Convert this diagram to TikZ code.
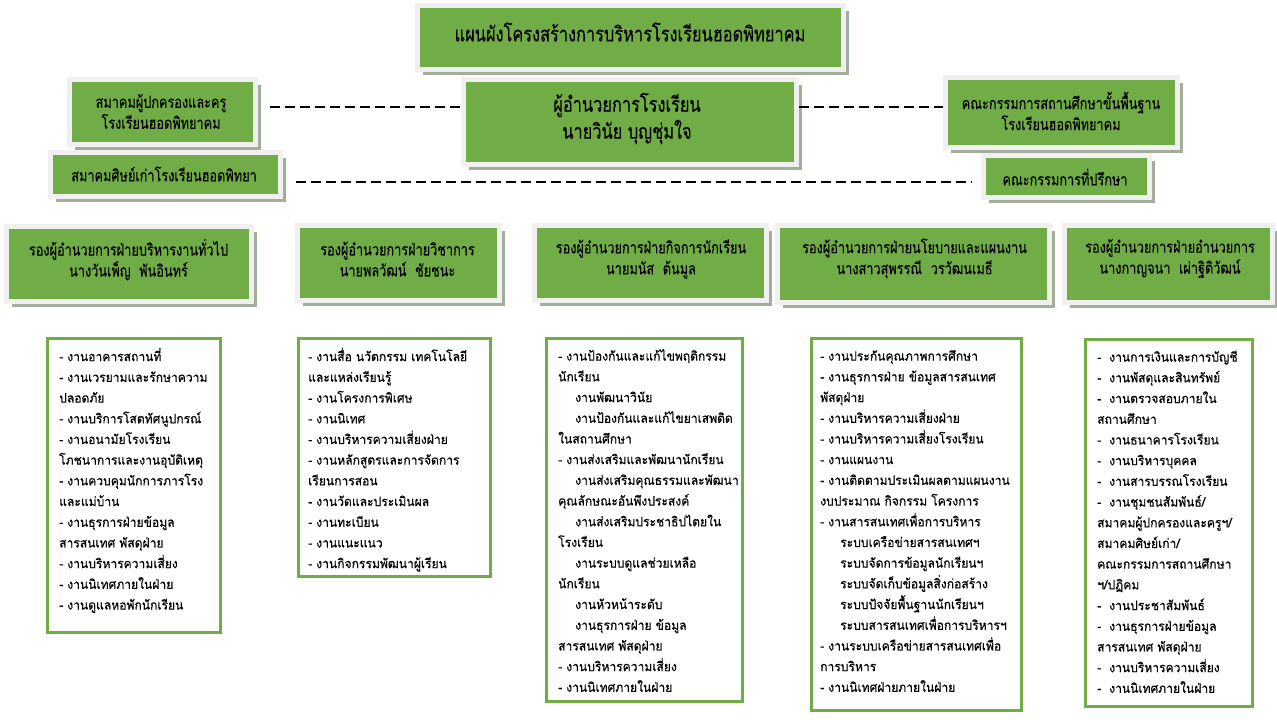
\documentclass[tikz,border=0pt]{standalone}
\usepackage{fontspec}
\newfontfamily\thai[Script=Thai,FakeStretch=0.93,FakeBold=0.4]{Loma}
\newfontfamily\thaic[Script=Thai,FakeStretch=0.78,FakeBold=0.2]{Loma}
\usetikzlibrary{shadows,backgrounds}
\definecolor{boxgreen}{HTML}{70AD47}
\definecolor{framegray}{HTML}{F0F0F0}
\definecolor{shadowgray}{HTML}{A3AE9A}
\tikzset{
  gbox/.style={rectangle, fill=boxgreen, draw=framegray, line width=5pt, inner sep=0pt,
    drop shadow={shadow xshift=5pt, shadow yshift=-5pt, fill=shadowgray, opacity=1}},
  lbox/.style={rectangle, fill=white, draw=boxgreen, line width=3pt, inner sep=0pt},
  ttl/.style={align=center, inner sep=0pt, font=\thaic\fontsize{21}{24}\selectfont},
  dtxt/.style={align=center, inner sep=0pt, font=\thaic\fontsize{21}{27}\selectfont},
  htxt/.style={align=center, inner sep=0pt, font=\thaic\fontsize{16.3}{21}\selectfont},
  ltxt/.style={align=left, inner sep=0pt, anchor=north west, font=\thai\fontsize{13}{20.7}\selectfont},
  thickline/.style={line width=4pt, black},
  dashline/.style={line width=1.8pt, black, dash pattern=on 10pt off 5pt},
}
\begin{document}
\begin{tikzpicture}[x=1pt,y=-1pt]
\useasboundingbox (0,0) rectangle (1277,720);
\fill[white] (0,0) rectangle (1277,720);

% top boxes
\node[gbox, minimum width=426pt, minimum height=64pt] (title) at (630.5,37.5) {};
\node[ttl] (titlet) at (630,32) {แผนผังโครงสร้างการบริหารโรงเรียนฮอดพิทยาคม};

\node[gbox, minimum width=333pt, minimum height=85pt] (dir) at (630,122) {};
\node[dtxt] (dirt) at (627,118.5) {ผู้อำนวยการโรงเรียน\\นายวินัย บุญชุ่มใจ};

\node[gbox, minimum width=186pt, minimum height=65pt] (lb1) at (162.5,112) {};
\node[htxt] (lb1t) at (161,111.5) {สมาคมผู้ปกครองและครู\\โรงเรียนฮอดพิทยาคม};

\node[gbox, minimum width=230pt, minimum height=44pt] (lb2) at (165.5,174.5) {};
\node[htxt] (lb2t) at (164,174) {สมาคมศิษย์เก่าโรงเรียนฮอดพิทยา};

\node[gbox, minimum width=232pt, minimum height=70pt] (rb1) at (1061.5,112.5) {};
\node[htxt] (rb1t) at (1061,111) {คณะกรรมการสถานศึกษาขั้นพื้นฐาน\\โรงเรียนฮอดพิทยาคม};

\node[gbox, minimum width=166pt, minimum height=42pt] (rb2) at (1066.5,176.5) {};
\node[htxt] (rb2t) at (1065,177) {คณะกรรมการที่ปรึกษา};

% head boxes
\node[gbox, minimum width=245pt, minimum height=75pt] (h1) at (129,264) {};
\node[htxt] (h1t) at (128.5,259.5) {รองผู้อำนวยการฝ่ายบริหารงานทั่วไป\\นางวันเพ็ญ\ \ พันอินทร์};
\node[gbox, minimum width=202pt, minimum height=75pt] (h2) at (398.5,263) {};
\node[htxt] (h2t) at (397.5,259) {รองผู้อำนวยการฝ่ายวิชาการ\\นายพลวัฒน์\ \ ชัยชนะ};
\node[gbox, minimum width=232pt, minimum height=75pt] (h3) at (650.5,263) {};
\node[htxt] (h3t) at (651,259) {รองผู้อำนวยการฝ่ายกิจการนักเรียน\\นายมนัส\ \ ต้นมูล};
\node[gbox, minimum width=272pt, minimum height=77pt] (h4) at (913.5,264) {};
\node[htxt] (h4t) at (914.5,258.5) {รองผู้อำนวยการฝ่ายนโยบายและแผนงาน\\นางสาวสุพรรณี\ \ วรวัฒนเมธี};
\node[gbox, minimum width=208pt, minimum height=77pt] (h5) at (1168.5,264) {};
\node[htxt] (h5t) at (1170,258.5) {รองผู้อำนวยการฝ่ายอำนวยการ\\นางกาญจนา\ \ เผ่าฐิติวัฒน์};

% list boxes
\node[lbox, minimum width=173pt, minimum height=294pt] (l1) at (134,485.5) {};
\node[lbox, minimum width=192pt, minimum height=238pt] (l2) at (394.5,457.5) {};
\node[lbox, minimum width=196pt, minimum height=363pt] (l3) at (644.5,520) {};
\node[lbox, minimum width=210pt, minimum height=372pt] (l4) at (916.5,524.5) {};
\node[lbox, minimum width=167pt, minimum height=367pt] (l5) at (1169,523) {};

\node[ltxt] (l1t) at (59,346.5) {\strut - งานอาคารสถานที่\\
- งานเวรยามและรักษาความ\\
ปลอดภัย\\
- งานบริการโสตทัศนูปกรณ์\\
- งานอนามัยโรงเรียน\\
โภชนาการและงานอุบัติเหตุ\\
- งานควบคุมนักการภารโรง\\
และแม่บ้าน\\
- งานธุรการฝ่ายข้อมูล\\
สารสนเทศ พัสดุฝ่าย\\
- งานบริหารความเสี่ยง\\
- งานนิเทศภายในฝ่าย\\
- งานดูแลหอพักนักเรียน};

\node[ltxt] (l2t) at (308,346.5) {\strut - งานสื่อ นวัตกรรม เทคโนโลยี\\
และแหล่งเรียนรู้\\
- งานโครงการพิเศษ\\
- งานนิเทศ\\
- งานบริหารความเสี่ยงฝ่าย\\
- งานหลักสูตรและการจัดการ\\
เรียนการสอน\\
- งานวัดและประเมินผล\\
- งานทะเบียน\\
- งานแนะแนว\\
- งานกิจกรรมพัฒนาผู้เรียน};

\node[ltxt] (l3t) at (558,346) {\strut - งานป้องกันและแก้ไขพฤติกรรม\\
นักเรียน\\
\hspace*{17pt}งานพัฒนาวินัย\\
\hspace*{17pt}งานป้องกันและแก้ไขยาเสพติด\\
ในสถานศึกษา\\
- งานส่งเสริมและพัฒนานักเรียน\\
\hspace*{17pt}งานส่งเสริมคุณธรรมและพัฒนา\\
คุณลักษณะอันพึงประสงค์\\
\hspace*{17pt}งานส่งเสริมประชาธิปไตยใน\\
โรงเรียน\\
\hspace*{17pt}งานระบบดูแลช่วยเหลือ\\
นักเรียน\\
\hspace*{17pt}งานหัวหน้าระดับ\\
\hspace*{17pt}งานธุรการฝ่าย ข้อมูล\\
สารสนเทศ พัสดุฝ่าย\\
- งานบริหารความเสี่ยง\\
- งานนิเทศภายในฝ่าย};

\node[ltxt] (l4t) at (820,346) {\strut - งานประกันคุณภาพการศึกษา\\
- งานธุรการฝ่าย ข้อมูลสารสนเทศ\\
พัสดุฝ่าย\\
- งานบริหารความเสี่ยงฝ่าย\\
- งานบริหารความเสี่ยงโรงเรียน\\
- งานแผนงาน\\
- งานติดตามประเมินผลตามแผนงาน\\
งบประมาณ กิจกรรม โครงการ\\
- งานสารสนเทศเพื่อการบริหาร\\
\hspace*{20pt}ระบบเครือข่ายสารสนเทศฯ\\
\hspace*{20pt}ระบบจัดการข้อมูลนักเรียนฯ\\
\hspace*{20pt}ระบบจัดเก็บข้อมูลสิ่งก่อสร้าง\\
\hspace*{20pt}ระบบปัจจัยพื้นฐานนักเรียนฯ\\
\hspace*{20pt}ระบบสารสนเทศเพื่อการบริหารฯ\\
- งานระบบเครือข่ายสารสนเทศเพื่อ\\
การบริหาร\\
- งานนิเทศฝ่ายภายในฝ่าย};

\node[ltxt] (l5t) at (1097,347) {\strut -\hspace{8pt}งานการเงินและการบัญชี\\
-\hspace{8pt}งานพัสดุและสินทรัพย์\\
-\hspace{8pt}งานตรวจสอบภายใน\\
สถานศึกษา\\
-\hspace{8pt}งานธนาคารโรงเรียน\\
-\hspace{8pt}งานบริหารบุคคล\\
-\hspace{8pt}งานสารบรรณโรงเรียน\\
-\hspace{8pt}งานชุมชนสัมพันธ์/\\
สมาคมผู้ปกครองและครูฯ/\\
สมาคมศิษย์เก่า/\\
คณะกรรมการสถานศึกษา\\
ฯ/ปฏิคม\\
-\hspace{8pt}งานประชาสัมพันธ์\\
-\hspace{8pt}งานธุรการฝ่ายข้อมูล\\
สารสนเทศ พัสดุฝ่าย\\
-\hspace{8pt}งานบริหารความเสี่ยง\\
-\hspace{8pt}งานนิเทศภายในฝ่าย};

% connectors
\coordinate (b1) at (129,203);
\coordinate (b2) at (397,203);
\coordinate (b3) at (631,203);
\coordinate (b4) at (900,203);
\coordinate (b5) at (1167,203);
\coordinate (c1) at (128,203);
\coordinate (c2) at (394,203);
\coordinate (c4) at (895,203);
\coordinate (c5) at (1164,203);
\begin{scope}[on background layer]
  \draw[line width=3pt] (dir -| b3) -- (b3);
  \draw[thickline, line cap=rect] (b1) -- (b5);
  \draw[thickline] (b1) -- (b1 |- h1);
  \draw[thickline] (b2) -- (b2 |- h2);
  \draw[thickline] (b3) -- (b3 |- h3);
  \draw[thickline] (b4) -- (b4 |- h4);
  \draw[thickline] (b5) -- (b5 |- h5);
  \draw[thickline] (h1 -| c1) -- (l1 -| c1);
  \draw[thickline] (h2 -| c2) -- (l2 -| c2);
  \draw[thickline] (h3 -| b3) -- (l3 -| b3);
  \draw[thickline] (h4 -| c4) -- (l4 -| c4);
  \draw[thickline] (h5 -| c5) -- (l5 -| c5);
\end{scope}
\coordinate (dA) at (270,107);
\coordinate (dB) at (799,107);
\coordinate (dC) at (296,182);
\draw[dashline] (dA) -- (dA -| dir.west);
\draw[dashline] (dB) -- (dB -| rb1.west);
\draw[dashline] (dC) -- ([xshift=-9pt]dC -| rb2.west);
\end{tikzpicture}
\end{document}
